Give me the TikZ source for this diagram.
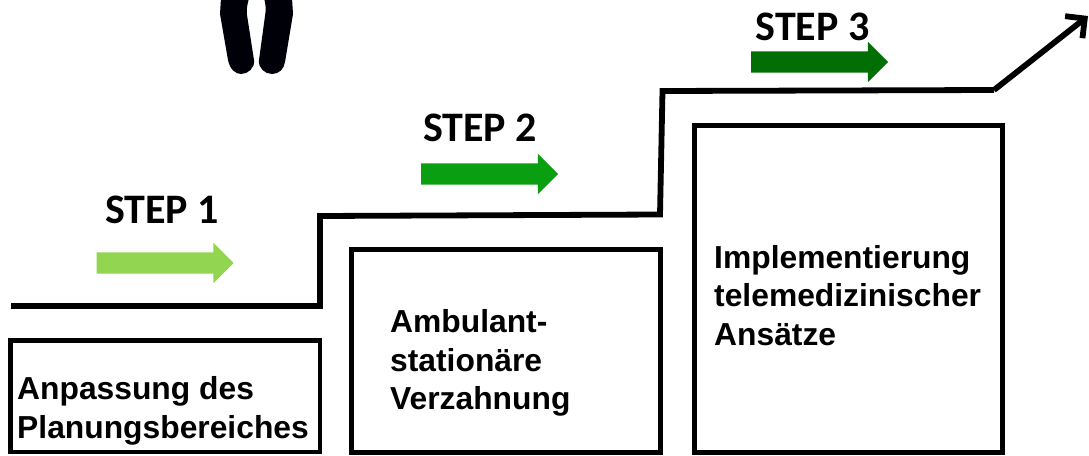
\documentclass[tikz,border=0pt]{standalone}
\usepackage{fontspec}
\setmainfont{Liberation Sans}
\newfontfamily\stepfont{Carlito}
\usetikzlibrary{shapes.arrows,arrows.meta}
\tikzset{
  px/.style={x=1pt,y=-1pt},
  boxnode/.style={draw=black,line width=4.5pt,rectangle,inner sep=0pt,outer sep=0pt,anchor=north west},
  boxtext/.style={anchor=west,align=left,inner sep=0pt,font=\fontsize{31.8}{38.8}\selectfont\bfseries},
  steptext/.style={anchor=center,inner sep=0pt,font=\fontsize{42}{46}\selectfont\stepfont\bfseries},
  steparrow/.style={single arrow,draw=none,inner sep=0pt,outer sep=0pt,minimum height=137pt,minimum width=40pt,
    single arrow head extend=9.5pt,single arrow tip angle=90,single arrow head indent=0pt,anchor=west},
  stair/.style={line width=5.8pt,line join=miter,draw=black},
  foot/.style={fill=black!97!blue,draw=none}
}
\definecolor{stepa}{HTML}{92D550}
\definecolor{stepb}{HTML}{0A9F10}
\definecolor{stepc}{HTML}{026F04}
\begin{document}
\begin{tikzpicture}[px]
\useasboundingbox (0,0) rectangle (1089,455);
\clip (0,0) rectangle (1089,455);
% feet
\fill[foot] (221,-2) -- (220,14) -- (228,60) .. controls (230,70) and (236,74) .. (241,74)
  .. controls (248,74) and (255,68) .. (254,60) -- (247,15) .. controls (246,8) and (248,3) .. (249,-2) -- cycle;
\fill[foot] (264,-2) .. controls (266,5) and (266,10) .. (265,16) -- (259,60)
  .. controls (258,68) and (265,74) .. (272,74) .. controls (279,74) and (284,69) .. (285,62)
  -- (293,14) -- (292,-2) -- cycle;
% boxes
\node[boxnode,minimum width=309.5pt,minimum height=111.5pt] (b1) at (10.5,340.5) {};
\node[boxnode,minimum width=309pt,minimum height=203pt] (b2) at (351.5,249.5) {};
\node[boxnode,minimum width=308pt,minimum height=327pt] (b3) at (694.5,125.5) {};
\node[boxtext] (t1) at (17,410.5) {Anpassung des\\Planungsbereiches};
\node[boxtext] (t2) at (390,363) {Ambulant-\\station\"are\\Verzahnung};
\node[boxtext] (t3) at (714,295.5) {Implementierung\\telemedizinischer\\Ans\"atze};
% stair
\coordinate (s0) at (11,306);
\coordinate (s1) at (320,306);
\coordinate (s2) at (320,216);
\coordinate (s3) at (660,214.5);
\coordinate (s4) at (662.5,91);
\coordinate (s5) at (994,90);
\coordinate (s6) at (1088,16);
\draw[stair] (s0) -- (s1) -- (s2) -- (s3) -- (s4) -- (s5);
\draw[stair,-{Straight Barb[length=14pt,width=28pt,line width=5.8pt]}] (s5) -- (s6);
% steps
\node[steptext] (l1) at (162,210) {STEP 1};
\node[steptext] (l2) at (480,128) {STEP 2};
\node[steptext] (l3) at (812.5,27) {STEP 3};
\node[steparrow,fill=stepa] (a1) at (96.5,263) {\rule{0pt}{21pt}};
\node[steparrow,fill=stepb] (a2) at (421,174) {\rule{0pt}{21pt}};
\node[steparrow,fill=stepc] (a3) at (751,62) {\rule{0pt}{21pt}};
\end{tikzpicture}
\end{document}
